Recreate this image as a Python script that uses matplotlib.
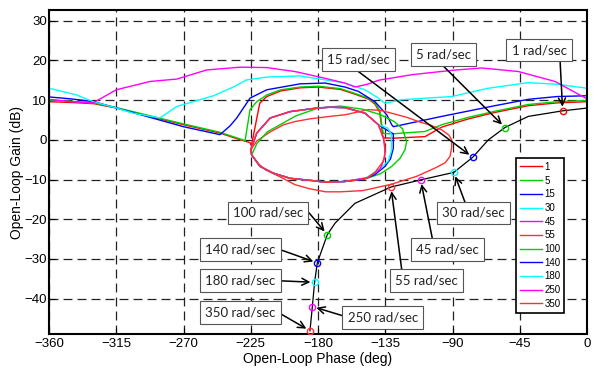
import matplotlib
matplotlib.use('Agg')
import matplotlib.pyplot as plt
import numpy as np

plt.rcParams['font.family'] = ['Liberation Sans', 'DejaVu Sans']

# -----------------------------
# Design frequencies (rad/sec) and bound colours
# -----------------------------
freqs = [1, 5, 15, 30, 45, 55, 100, 140, 180, 250, 350]
colors = ['#ff0000', '#00d000', '#0000ff', '#00ffff', '#ff00ff', '#ff3030',
          '#00d000', '#0000ff', '#00ffff', '#ff00ff', '#ff3030']

# -----------------------------
# Open bounds (phase deg, gain dB)
# -----------------------------
b1 = [(-360, 9.6), (-345, 9.4), (-330, 9.1), (-314.7, 8.0), (-270, 3.8), (-245.6, 1.7),
      (-232, 0.0), (-225.5, -0.7), (-224.6, -1.5), (-219.0, 9.2), (-214.3, 10.9),
      (-205, 12.3), (-192, 13.1), (-180, 13.3), (-165, 12.7), (-153, 11.2), (-146, 10.2),
      (-141.9, 9.0), (-138.8, 7.0), (-137.6, 3.8), (-136.8, 1.0), (-136.0, 0.5),
      (-130, 0.4), (-108.4, 0.8), (-97.2, 3.2), (-80, 5.2), (-61.6, 6.9), (-39.3, 8.6),
      (-20, 9.3), (0, 9.6)]
b5 = [(-360, 10.0), (-345, 9.7), (-330, 9.3), (-314.7, 8.1), (-270, 4.0), (-245.6, 1.9),
      (-232, 0.2), (-228.8, -0.2), (-225.5, 7.6), (-221, 9.6), (-214.3, 11.3),
      (-205, 12.6), (-192, 13.3), (-180, 13.5), (-165, 12.9), (-153, 11.4), (-146, 10.4),
      (-141.9, 9.3), (-138.5, 7.2), (-137.3, 3.8), (-136.3, 1.6), (-130.7, 1.5),
      (-108.4, 2.1), (-97.2, 3.8), (-80, 5.6), (-61.6, 7.2), (-39.3, 8.9), (-20, 9.6),
      (0, 9.9)]
b15 = [(-360, 10.8), (-345, 10.3), (-330, 9.6), (-314.7, 8.0), (-270, 3.3), (-245.6, 1.3),
       (-238.9, 3.5), (-234.4, 5.5), (-225.5, 10.5), (-214.3, 12.6), (-192, 14.1),
       (-175.3, 14.3), (-162, 13.3), (-153, 12.2), (-141.9, 9.6), (-134, 6.3),
       (-130.7, 3.8), (-129.6, 3.3), (-108.4, 5.0), (-97.2, 5.9), (-61.6, 8.6),
       (-39.3, 10.2), (-20, 10.9), (0, 11.1)]
b30 = [(-360, 13.0), (-341.5, 11.3), (-330.4, 9.6), (-314.7, 8.0), (-303.6, 6.7),
       (-285.7, 5.5), (-274.5, 8.4), (-250, 11.1), (-236.7, 13.3), (-227.7, 15.1),
       (-214.3, 15.8), (-192, 16.1), (-175.3, 15.1), (-162, 14.3), (-148.5, 12.6),
       (-140, 10.6), (-135.2, 9.2), (-124, 10.1), (-90.5, 10.9), (-66, 13.0),
       (-39.3, 14.4), (-20, 14.0), (0, 13.0)]
b45 = [(-360, 10.2), (-345, 9.6), (-330.5, 9.3), (-315, 12.6), (-292.4, 14.7),
       (-274.5, 15.3), (-254.5, 17.6), (-232, 18.3), (-214.3, 18.2), (-195.4, 17.2),
       (-175.3, 15.5), (-162, 14.3), (-155.2, 13.3), (-147, 14.0), (-139.6, 15.0),
       (-117.3, 16.4), (-90.5, 17.5), (-70.5, 18.1), (-45.9, 17.2), (-21.4, 14.7),
       (0, 10.3)]

# -----------------------------
# Closed bounds
# -----------------------------
b55 = [(-225, -2.5), (-221, -0.3), (-212, 2.0), (-203, 3.8), (-195.4, 4.6), (-185, 5.3),
       (-172, 5.9), (-162, 6.3), (-146.3, 7.6), (-138, 7.4), (-130.7, 6.7), (-120, 5.6),
       (-112.9, 4.6), (-104, 3.6), (-97.2, 2.5), (-92.5, 1.2), (-90.5, 0.0), (-90.6, -2.0),
       (-91.7, -4.2), (-95, -5.8), (-101.7, -7.1), (-114, -9.2), (-131, -11.2),
       (-150, -12.8), (-165, -13.1), (-175, -13.1), (-186, -12.3), (-195.4, -11.3),
       (-205, -9.4), (-215, -7.6), (-220, -6.0), (-224, -4.0), (-225, -2.5)]

ell_top = [(-225, -2.5), (-221, 1.7), (-212, 5.5), (-198.7, 7.1), (-180.9, 8.0),
           (-172, 8.2), (-162, 8.1), (-148.5, 6.7), (-139.6, 3.8)]
ell_bottom = [(-162, -10.5), (-175.3, -10.7), (-183.1, -10.3), (-198.7, -9.7),
              (-209.9, -8.4), (-218.8, -6.7), (-224.4, -3.8), (-225, -2.5)]
side_100 = [(-224.4, -3.8), (-221, -1.0), (-214, 2.0), (-205.4, 3.8), (-195, 6.0),
            (-180, 8.0), (-165, 8.5), (-150, 7.7), (-138, 6.3), (-129, 4.6),
            (-123.5, 2.8), (-120.7, -0.4), (-121.8, -2.5), (-125, -4.6), (-130.7, -6.7),
            (-138, -8.5), (-146.3, -9.6)]
side_140 = [(-134.5, 2.6), (-129.6, 1.5), (-129.6, -2.1), (-131.5, -4.8), (-135.2, -6.7),
            (-142, -8.8), (-150, -10.0)]
side_180 = [(-133.5, 3.0), (-131.0, 1.5), (-130.7, -2.5), (-133, -5.3), (-138.5, -7.3),
            (-148, -9.6)]
side_250 = [(-136.3, 0.4), (-135.2, -2.5), (-135.4, -4.5), (-138.5, -7.4), (-146.3, -9.5)]
side_350 = [(-136.3, 0.6), (-135.3, -1.0), (-135.2, -3.4), (-136.5, -5.5), (-141.9, -8.2),
            (-148, -9.8)]

bounds = [b1, b5, b15, b30, b45, b55,
          side_100 + ell_bottom,
          ell_top + side_140 + ell_bottom,
          ell_top + side_180 + ell_bottom,
          ell_top + side_250 + ell_bottom,
          ell_top + side_350 + ell_bottom]

# -----------------------------
# Nominal loop L0 (from 350 rad/sec up to phase 0)
# -----------------------------
loop_phase = [-185.4, -183.8, -182.3, -180.5, -173.8, -168.6, -155.3, -131.2, -111.3,
              -89.1, -76.5, -66.0, -54.9, -39.3, -16.3, 0.0]
loop_gain = [-48.1, -42.0, -35.9, -31.0, -23.9, -21.0, -16.0, -11.9, -10.1,
             -8.2, -4.4, 0.0, 3.1, 5.9, 7.3, 8.0]
# index of each design frequency on the loop (same order as freqs)
mark_idx = [14, 12, 10, 9, 8, 7, 4, 3, 2, 1, 0]

# -----------------------------
# Plot
# -----------------------------
fig = plt.figure(figsize=(5.95, 3.72), dpi=100)
ax = fig.add_axes([0.0824, 0.1013, 0.9042, 0.8718])

handles = []
for f, c, pts in zip(freqs, colors, bounds):
    p = np.array(pts)
    h, = ax.plot(p[:, 0], p[:, 1], color=c, lw=1.0, label=str(f), zorder=2)
    handles.append(h)

ax.plot(loop_phase, loop_gain, color='black', lw=0.9, zorder=4)
for i, c in zip(mark_idx, colors):
    ax.plot(loop_phase[i], loop_gain[i], 'o', ms=4.5, mfc='none', mec=c, mew=1.0, zorder=5)

# labels: text centre and arrow start
notes = [((-32.1, 22.6), (-18.0, 19.7)),
         ((-95.9, 21.5), (-96.2, 18.6)),
         ((-153.0, 20.2), (-153.0, 17.2)),
         ((-75.9, -18.4), (-81.6, -15.8)),
         ((-93.5, -27.6), (-103.5, -24.9)),
         ((-107.3, -35.5), (-124.0, -32.7)),
         ((-213.5, -18.4), (-186.0, -18.4)),
         ((-232.0, -27.7), (-206.6, -27.5)),
         ((-232.0, -35.5), (-206.6, -35.5)),
         ((-136.7, -44.7), (-161.9, -44.5)),
         ((-232.0, -43.5), (-206.6, -43.5))]
for f, i, (tpos, spos) in zip(freqs, mark_idx, notes):
    ax.annotate('', xy=(loop_phase[i], loop_gain[i]), xytext=spos,
                arrowprops=dict(arrowstyle='->,head_length=0.5,head_width=0.25',
                                color='black', lw=1.1, shrinkA=0, shrinkB=3),
                zorder=6)
    ax.text(tpos[0], tpos[1], f'{f} rad/sec', ha='center', va='center',
            fontsize=9.5, family=['Lato', 'DejaVu Sans'], color='#222222',
            bbox=dict(boxstyle='square,pad=0.4', fc='white', ec='#555555', lw=0.8),
            zorder=7)

ax.set_xlim(-360, 0)
ax.set_ylim(-49, 32.7)
ax.set_xticks(np.arange(-360, 1, 45))
ax.set_yticks(np.arange(-40, 31, 10))
ax.tick_params(direction='in', length=4, labelsize=9.5, color='black')
ax.tick_params(axis='x', pad=3)
ax.tick_params(axis='y', pad=1.5)
ax.grid(True, color='#222222', lw=0.9, linestyle=(0, (7.2, 4.0)))
ax.set_axisbelow(True)
for s in ax.spines.values():
    s.set_linewidth(1.5)
    s.set_color('black')

ax.set_xlabel('Open-Loop Phase (deg)', fontsize=10, labelpad=1)
ax.set_ylabel('Open-Loop Gain (dB)', fontsize=10, labelpad=0)

leg = ax.legend(handles=handles, loc='lower right', bbox_to_anchor=(0.958, 0.0666),
                borderaxespad=0, fontsize=7, frameon=True, fancybox=False,
                edgecolor='black', framealpha=1, handlelength=2.3, handletextpad=0.25,
                labelspacing=0.38, borderpad=0.4)
leg.get_frame().set_linewidth(1.2)
leg.set_zorder(8)

fig.savefig('out.png', dpi=100)
